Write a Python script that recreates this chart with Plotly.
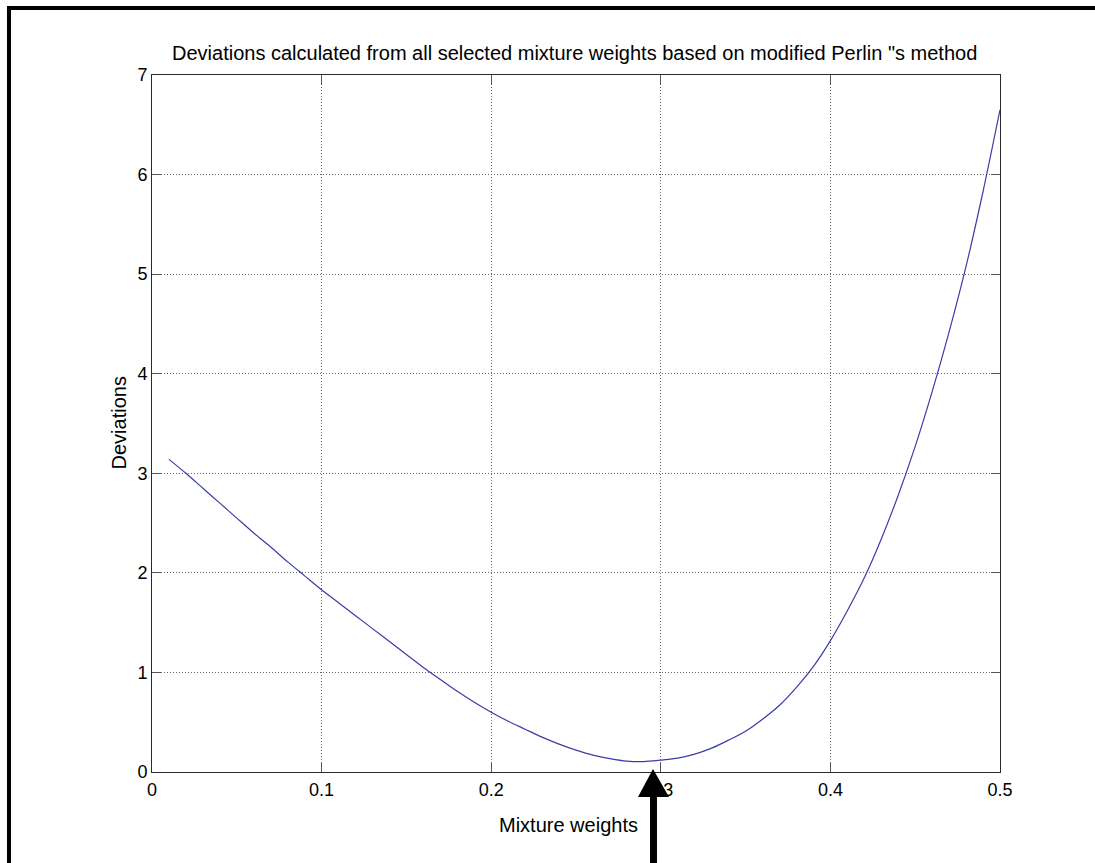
import plotly.graph_objects as go

# Data
mixture_weights = [0.01, 0.02, 0.03, 0.04, 0.05, 0.06, 0.07, 0.08, 0.09, 0.10,
                   0.11, 0.12, 0.13, 0.14, 0.15, 0.16, 0.17, 0.18, 0.19, 0.20,
                   0.21, 0.22, 0.23, 0.24, 0.25, 0.26, 0.27, 0.28, 0.29, 0.30,
                   0.31, 0.32, 0.33, 0.34, 0.35, 0.36, 0.37, 0.38, 0.39, 0.40,
                   0.41, 0.42, 0.43, 0.44, 0.45, 0.46, 0.47, 0.48, 0.49, 0.50]
deviations = [3.14, 3.00, 2.85, 2.70, 2.55, 2.40, 2.26, 2.11, 1.97, 1.83,
              1.70, 1.57, 1.44, 1.31, 1.18, 1.05, 0.93, 0.81, 0.70, 0.60,
              0.51, 0.43, 0.35, 0.28, 0.22, 0.17, 0.135, 0.11, 0.105, 0.12,
              0.14, 0.18, 0.24, 0.32, 0.41, 0.53, 0.67, 0.85, 1.06, 1.32,
              1.62, 1.95, 2.34, 2.78, 3.27, 3.82, 4.42, 5.08, 5.83, 6.65]

x_ticks = [0, 0.1, 0.2, 0.3, 0.4, 0.5]
x_tick_labels = ["0", "0.1", "0.2", "0.3", "0.4", "0.5"]
y_ticks = [0, 1, 2, 3, 4, 5, 6, 7]
y_tick_labels = ["0", "1", "2", "3", "4", "5", "6", "7"]

title_text = 'Deviations calculated from all selected mixture weights based on modified Perlin "s method'
x_label = "Mixture weights"
y_label = "Deviations"

FONT = "Liberation Sans, Arial, Helvetica, sans-serif"

fig = go.Figure()
fig.add_trace(go.Scatter(
    x=mixture_weights, y=deviations, mode="lines",
    line=dict(color="#3c3ca8", width=1.2, shape="spline", smoothing=0.8),
    showlegend=False, hoverinfo="x+y",
))

axis_common = dict(
    showline=True, linecolor="#2a2a2a", linewidth=1, mirror="allticks",
    ticks="inside", ticklen=9, tickcolor="#555555", tickwidth=1,
    showgrid=True, gridcolor="#666666", gridwidth=1, griddash="1px,2px",
    zeroline=False, tickfont=dict(family=FONT, size=18, color="#000000"),
)

fig.update_xaxes(range=[0, 0.5], tickvals=x_ticks, ticktext=x_tick_labels,
                 ticklabelstandoff=1, **axis_common)
fig.update_yaxes(range=[0, 7], tickvals=y_ticks, ticktext=y_tick_labels,
                 ticklabelstandoff=0, **axis_common)

# Arrow (paper coordinates) pointing at the minimum
arrow_path = ("M 0.5908 0.0043 L 0.6097 -0.0359 L 0.5955 -0.0359 L 0.5955 -0.1320 "
              "L 0.5873 -0.1320 L 0.5873 -0.0359 L 0.5731 -0.0359 Z")

shapes = [
    dict(type="path", path=arrow_path, xref="paper", yref="paper",
         fillcolor="#000000", line=dict(color="#000000", width=0), layer="above"),
    # outer frame: top and left black borders
    dict(type="rect", xref="paper", yref="paper",
         x0=(7 - 152) / 848, x1=(1095 - 152) / 848,
         y0=(772 - 10) / 697, y1=(772 - 6) / 697,
         fillcolor="#000000", line=dict(width=0)),
    dict(type="rect", xref="paper", yref="paper",
         x0=(7 - 152) / 848, x1=(11 - 152) / 848,
         y0=(772 - 863) / 697, y1=(772 - 6) / 697,
         fillcolor="#000000", line=dict(width=0)),
]

annotations = [
    dict(text=title_text, xref="paper", yref="paper", x=(574 - 152) / 848,
         y=(772 - 53) / 697, showarrow=False, xanchor="center", yanchor="middle",
         font=dict(family=FONT, size=20, color="#000000")),
    dict(text=x_label, xref="paper", yref="paper", x=(568 - 152) / 848,
         y=(772 - 825) / 697, showarrow=False, xanchor="center", yanchor="middle",
         font=dict(family=FONT, size=20, color="#000000")),
    dict(text=y_label, xref="paper", yref="paper", x=(118 - 152) / 848,
         y=0.5, showarrow=False, xanchor="center", yanchor="middle", textangle=-90,
         font=dict(family=FONT, size=20, color="#000000")),
]

fig.update_layout(
    width=1095, height=863,
    margin=dict(l=152, r=95, t=75, b=91, pad=0),
    paper_bgcolor="#ffffff", plot_bgcolor="#ffffff",
    shapes=shapes, annotations=annotations,
    font=dict(family=FONT, size=18, color="#000000"),
)

fig.write_html("out.html", config={"displayModeBar": False},
               post_script="document.body.style.margin='0px';document.body.style.overflow='hidden';")
